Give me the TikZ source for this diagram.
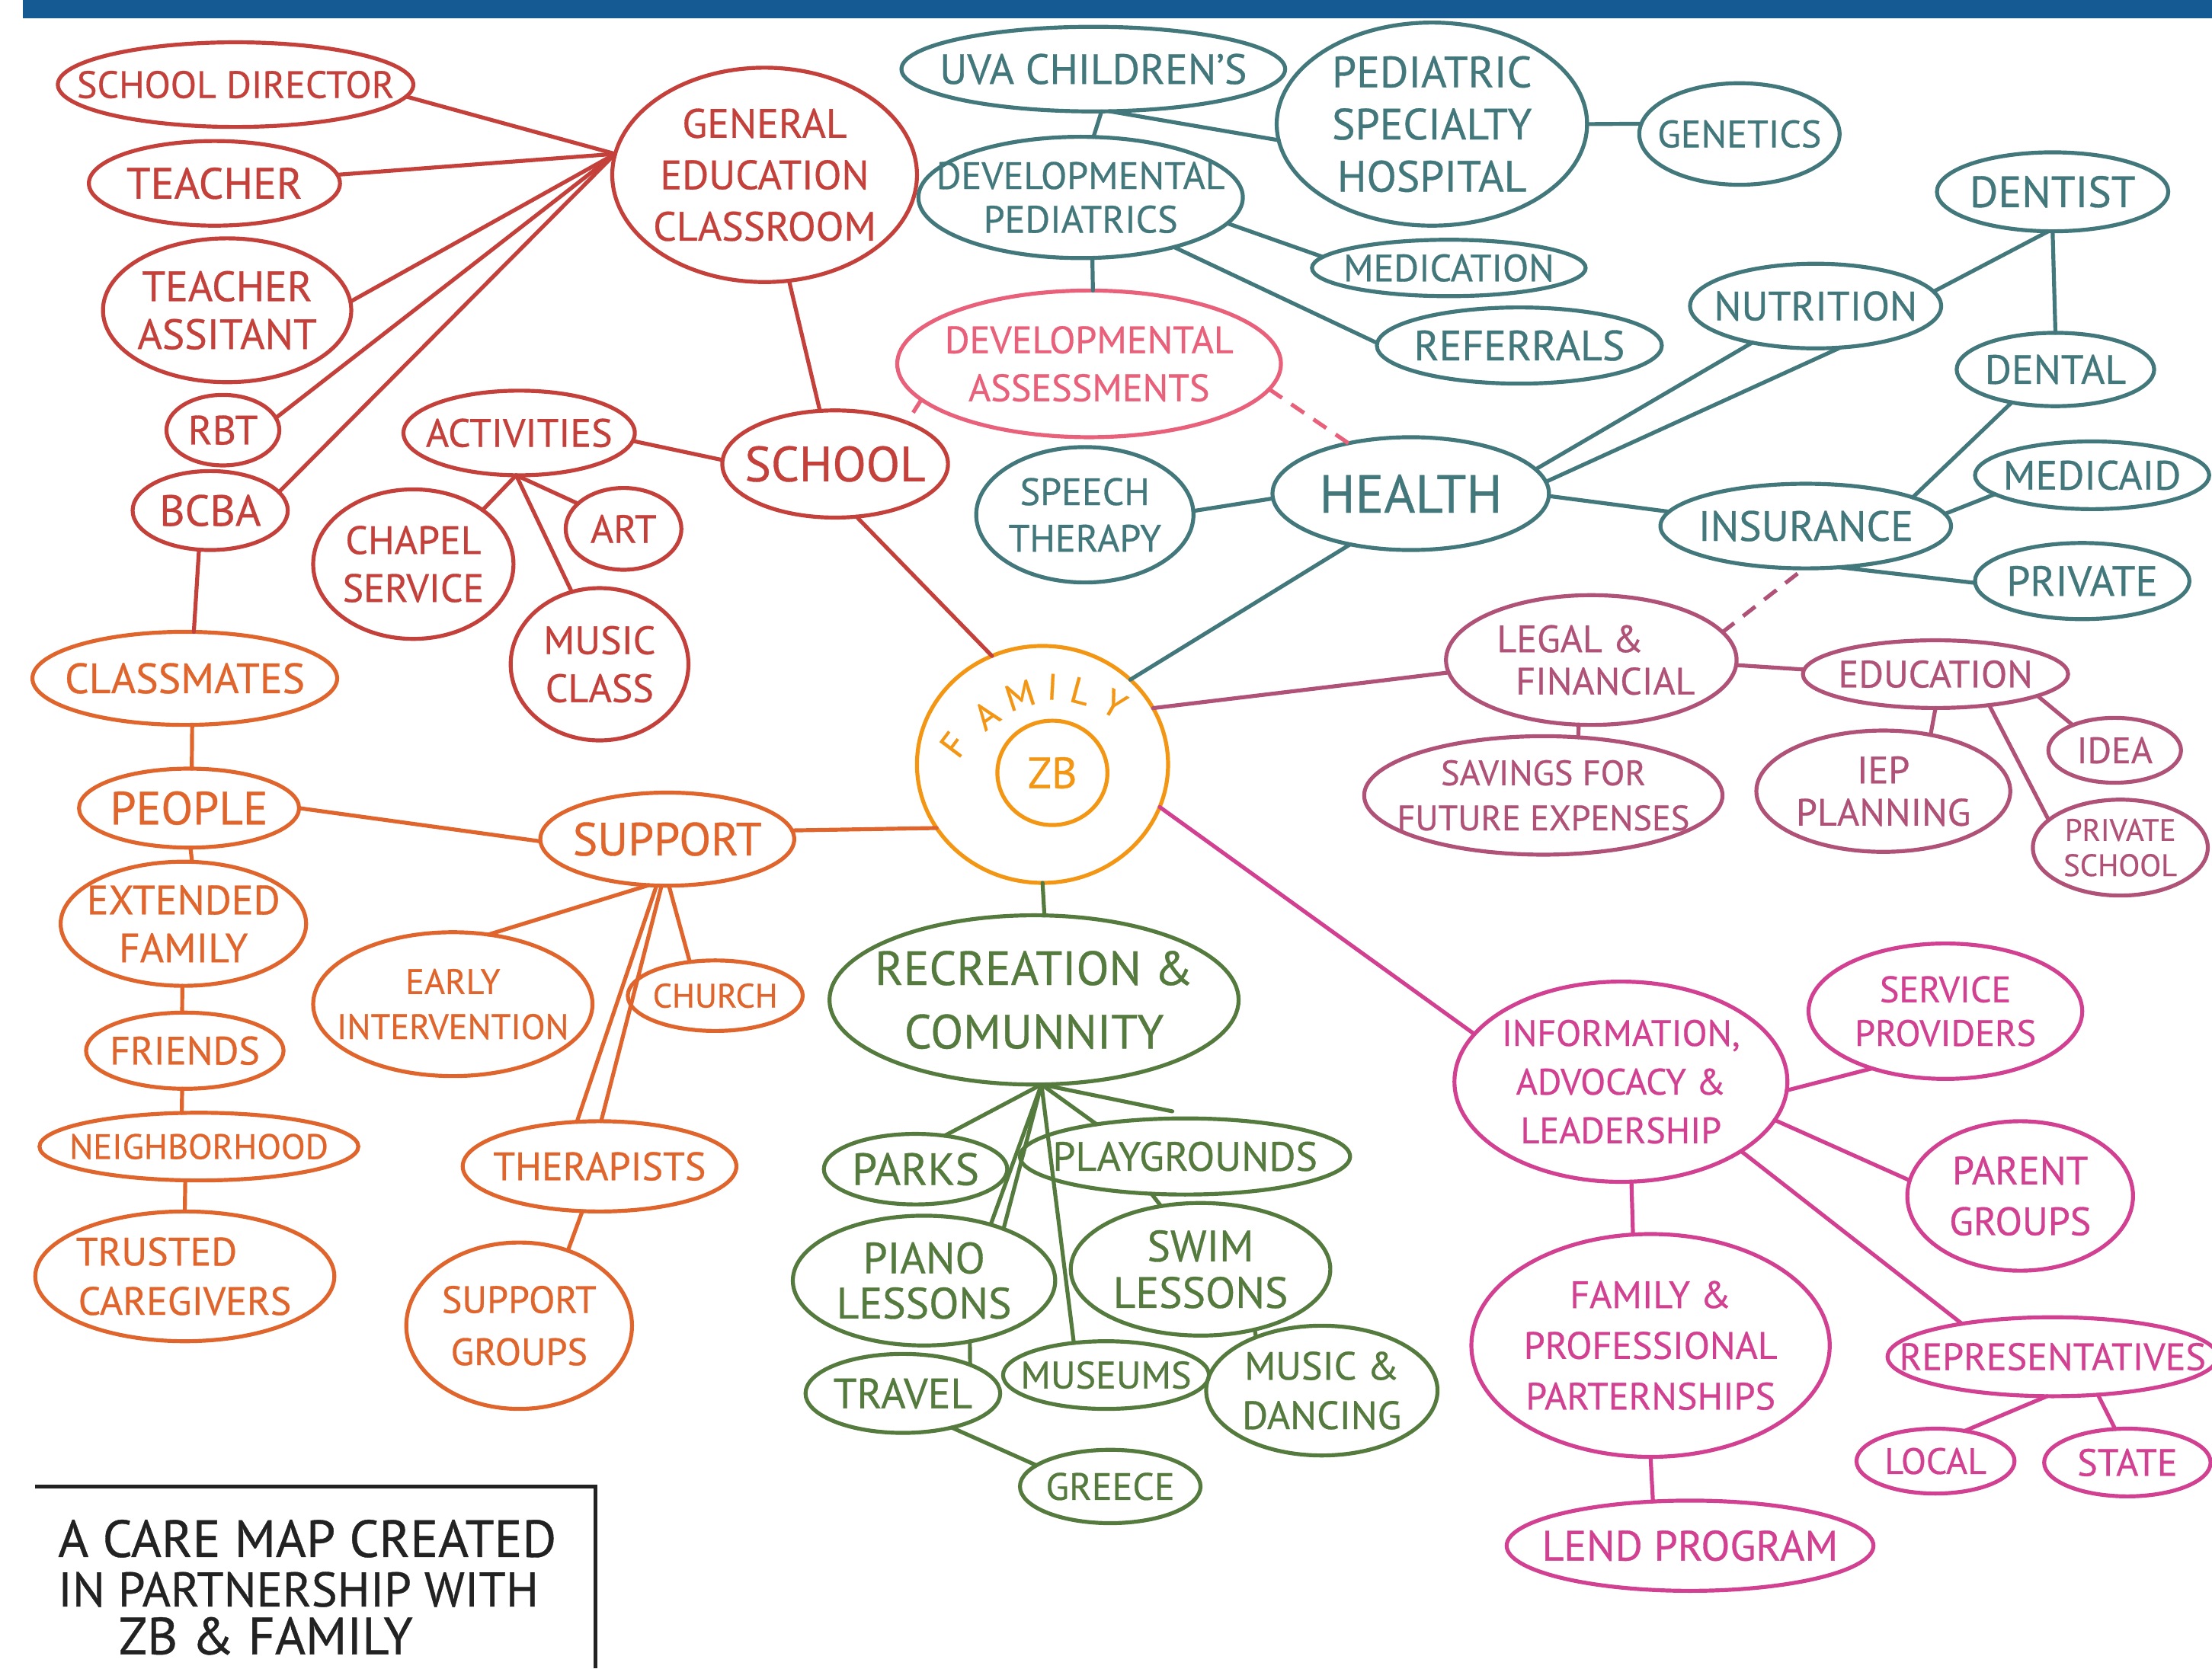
\documentclass[tikz,border=0pt]{standalone}
\usepackage{fontspec}
\setmainfont{PT Sans}[FakeBold=0.6]
\usetikzlibrary{shapes.geometric}
\definecolor{cred}{HTML}{C4403A}
\definecolor{corg}{HTML}{E0652C}
\definecolor{cfam}{HTML}{F39614}
\definecolor{cteal}{HTML}{42787B}
\definecolor{cpink}{HTML}{E8607A}
\definecolor{cmauve}{HTML}{B05278}
\definecolor{cmag}{HTML}{D24191}
\definecolor{cgreen}{HTML}{557A3E}
\definecolor{cbar}{HTML}{165A94}
\definecolor{cink}{HTML}{222222}
\tikzset{
 bub/.style={draw, ellipse, inner sep=0pt, outer sep=0pt, line width=2.8pt},
 lbl/.style={align=center, inner sep=0pt},
 conn/.style={line width=2.8pt, line cap=round},
 dconn/.style={line width=2.8pt, dash pattern=on 11pt off 8pt},
 famletter/.style={text=cfam, font=\fontsize{26}{28}\selectfont, inner sep=0pt},
 capline/.style={anchor=west, text=cink, inner sep=0pt},
}
\newcommand\bub[9]{\node[bub, draw=#6, minimum width={2*#4pt}, minimum height={2*#5pt}, label={[lbl, text=#6, font=\fontsize{#7}{#8}\selectfont]center:{#9}}] (#1) at (#2,#3) {};}
\begin{document}
\begin{tikzpicture}[x=1pt,y=-1pt]
\useasboundingbox (0,0) rectangle (1568,1183);
\fill[cbar] (16,0) rectangle (1568,13);
% red
\bub{sd}{167}{60}{126}{30}{cred}{27}{32}{SCHOOL DIRECTOR}
\bub{teacher}{152}{130}{89}{30}{cred}{31}{36}{TEACHER}
\bub{ta}{161}{220}{88}{51}{cred}{30}{34}{TEACHER\\ASSITANT}
\bub{rbt}{158}{305}{40}{25}{cred}{29}{34}{RBT}
\bub{bcba}{149}{362}{55}{28}{cred}{31}{34}{BCBA}
\bub{gec}{542}{124}{108}{76}{cred}{29}{36.5}{GENERAL\\EDUCATION\\CLASSROOM}
\bub{school}{592}{329}{80}{38}{cred}{35}{40}{SCHOOL}
\bub{act}{368}{307}{82}{30}{cred}{28}{34}{ACTIVITIES}
\bub{chapel}{293}{400}{71}{53}{cred}{28}{34}{CHAPEL\\SERVICE}
\bub{art}{442}{375}{41}{29}{cred}{28}{34}{ART}
\bub{music}{425}{471}{63}{54}{cred}{28}{34}{MUSIC\\CLASS}
% orange
\bub{classmates}{131}{481}{108}{33}{corg}{30}{34}{CLASSMATES}
\bub{people}{134}{573}{78}{28}{corg}{33}{36}{PEOPLE}
\bub{ext}{130}{655}{87}{44}{corg}{29}{34}{EXTENDED\\FAMILY}
\bub{friends}{131}{745}{70}{27}{corg}{28}{34}{FRIENDS}
\bub{neigh}{141}{813}{113}{24}{corg}{25}{30}{NEIGHBORHOOD}
\bub{trusted}{131}{905}{106}{46}{corg}{28}{35}{TRUSTED\hspace*{40pt}\\CAREGIVERS}
\bub{support}{473}{595}{90}{33}{corg}{33}{36}{SUPPORT}
\bub{early}{321}{712}{99}{51}{corg}{25}{32}{EARLY\\INTERVENTION}
\bub{church}{507}{706}{62}{25}{corg}{24}{30}{CHURCH}
\bub{ther}{425}{827}{97}{32}{corg}{28}{34}{THERAPISTS}
\bub{sg}{368}{940}{80}{59}{corg}{27}{37}{SUPPORT\\GROUPS}
% family
\node[bub, draw=cfam, minimum width=178pt, minimum height=168pt] (fam) at (739,542) {};
\bub{zb}{746}{548}{39}{37}{cfam}{31}{36}{ZB}
\node[famletter, rotate=53] (f1) at (676,528) {F};
\node[famletter, rotate=36] (f2) at (699,507) {A};
\node[famletter, rotate=18] (f3) at (723,493) {M};
\node[famletter, rotate=-3] (f4) at (746,487) {I};
\node[famletter, rotate=-15] (f5) at (766,490) {L};
\node[famletter, rotate=-30] (f6) at (790,499) {Y};
% teal
\bub{uva}{775}{49}{136}{30}{cteal}{30}{34}{UVA CHILDREN'S}
\bub{psh}{1015}{88}{110}{72}{cteal}{31}{37}{PEDIATRIC\\SPECIALTY\\HOSPITAL}
\bub{gen}{1233}{95}{71}{36}{cteal}{27}{32}{GENETICS}
\bub{devped}{766}{140}{115}{43}{cteal}{27}{31}{DEVELOPMENTAL\\PEDIATRICS}
\bub{med}{1027}{190}{97}{20}{cteal}{27}{32}{MEDICATION}
\bub{ref}{1077}{245}{101}{27}{cteal}{30}{34}{REFERRALS}
\bub{da}{772}{258}{136}{52}{cpink}{27}{34}{DEVELOPMENTAL\\ASSESSMENTS}
\bub{speech}{769}{365}{77}{48}{cteal}{27}{33}{SPEECH\\THERAPY}
\bub{health}{1000}{350}{98}{40}{cteal}{38}{42}{HEALTH}
\bub{nut}{1287}{217}{89}{30}{cteal}{29}{34}{NUTRITION}
\bub{dentist}{1455}{136}{82}{28}{cteal}{31}{36}{DENTIST}
\bub{dental}{1457}{262}{70}{26}{cteal}{29}{34}{DENTAL}
\bub{ins}{1280}{373}{103}{30}{cteal}{30}{34}{INSURANCE}
\bub{medicaid}{1483}{337}{83}{24}{cteal}{29}{34}{MEDICAID}
\bub{private}{1476}{412}{76}{27}{cteal}{30}{34}{PRIVATE}
% mauve
\bub{legal}{1128}{468}{103}{46}{cmauve}{27}{30}{LEGAL \&\hspace*{30pt}\\\hspace*{20pt}FINANCIAL}
\bub{sav}{1094}{564}{127}{42}{cmauve}{25}{32}{SAVINGS FOR\\FUTURE EXPENSES}
\bub{edu}{1372}{478}{94}{24}{cmauve}{27}{32}{EDUCATION}
\bub{iep}{1335}{561}{90}{43}{cmauve}{27}{30}{IEP\\PLANNING}
\bub{idea}{1499}{532}{47}{23}{cmauve}{26}{30}{IDEA}
\bub{ps}{1503}{601}{62}{34}{cmauve}{22}{25}{PRIVATE\\SCHOOL}
% magenta
\bub{ial}{1149}{767}{118}{71}{cmag}{26}{34.5}{INFORMATION,\\ADVOCACY \&\\LEADERSHIP}
\bub{sp}{1379}{717}{97}{48}{cmag}{26}{31}{SERVICE\\PROVIDERS}
\bub{pg}{1432}{848}{80}{53}{cmag}{28}{36}{PARENT\\GROUPS}
\bub{fpp}{1170}{954}{127}{79}{cmag}{27}{36}{FAMILY \&\\PROFESSIONAL\\PARTERNSHIPS}
\bub{rep}{1455}{962}{117}{28}{cmag}{27}{32}{REPRESENTATIVES}
\bub{local}{1372}{1036}{56}{23}{cmag}{26}{30}{LOCAL}
\bub{state}{1508}{1037}{59}{24}{cmag}{27}{30}{STATE}
\bub{lend}{1198}{1096}{130}{32}{cmag}{30}{34}{LEND PROGRAM}
% green
\bub{rec}{733}{709}{145}{60}{cgreen}{34}{45}{RECREATION \&\\COMUNNITY}
\bub{parks}{649}{829}{65}{25}{cgreen}{32}{34}{PARKS}
\bub{play}{840}{820}{117}{27}{cgreen}{29}{32}{PLAYGROUNDS}
\bub{piano}{655}{908}{93}{46}{cgreen}{31}{32}{PIANO\\LESSONS}
\bub{swim}{851}{900}{92}{47}{cgreen}{31}{33}{SWIM\\LESSONS}
\bub{travel}{640}{988}{69}{28}{cgreen}{30}{34}{TRAVEL}
\bub{museums}{784}{975}{73}{24}{cgreen}{27}{32}{MUSEUMS}
\bub{mdance}{937}{986}{82}{46}{cgreen}{28}{35}{MUSIC \&\\DANCING}
\bub{greece}{787}{1054}{64}{26}{cgreen}{27}{32}{GREECE}
% caption box
\coordinate (bx1) at (25,1054);
\coordinate (bx2) at (422,1054);
\coordinate (bx3) at (422,1183);
\draw[cink, line width=2.5pt] (bx1) -- (bx2) -- (bx3);
\node[capline, font=\fontsize{37}{40}\selectfont] (cap1) at (41,1091) {A CARE MAP CREATED};
\node[capline, font=\fontsize{34.5}{40}\selectfont] (cap2) at (41,1127) {IN PARTNERSHIP WITH};
\node[capline, font=\fontsize{37}{40}\selectfont] (cap3) at (84,1160) {ZB \& FAMILY};
% red connectors
\draw[conn, cred] (sd.-4) -- (gec.172);
\draw[conn, cred] (teacher.4) -- (gec.172);
\draw[conn, cred] (ta.4) -- (gec.172);
\draw[conn, cred] (rbt.13) -- (gec.172);
\draw[conn, cred] (bcba.15) -- (gec.172);
\draw[conn, cred] (gec.-77) -- (school.106);
\draw[conn, cred] (act.-4) -- (school.178);
\coordinate (acthub) at (act.-94);
\draw[conn, cred] (acthub) -- (chapel.38);
\draw[conn, cred] (acthub) -- (art.151);
\draw[conn, cred] (acthub) -- (music.111);
\draw[conn, cred] (school.-68) -- (fam.115);
\draw[conn, cred] (bcba.-106) -- (classmates.79);
% orange connectors
\draw[conn, corg] (classmates.-81) -- (people.86);
\draw[conn, corg] (people.-88) -- (ext.82);
\draw[conn, corg] (ext.-91) -- (friends.94);
\draw[conn, corg] (friends.-94) -- (neigh.117);
\draw[conn, corg] (neigh.-112) -- (trusted.90);
\draw[conn, corg] (people.0) -- (support.181);
\draw[conn, corg] (support.-112) -- (early.63);
\draw[conn, corg] (support.-88) -- (church.127);
\draw[conn, corg] (support.-103) -- (ther.117);
\draw[conn, corg] (support.-97) -- (ther.88);
\draw[conn, corg] (ther.-111) -- (sg.57);
\draw[conn, corg] (support.4) -- (fam.211);
% teal connectors
\draw[conn, cteal] (uva.-79) -- (devped.78);
\draw[conn, cteal] (uva.-69) -- (psh.186);
\draw[conn, cteal] (psh.0) -- (gen.174);
\draw[conn, cteal] (devped.-10) -- (med.175);
\draw[conn, cteal] (devped.-28) -- (ref.179);
\draw[conn, cteal] (devped.-79) -- (da.87);
\draw[dconn, cpink] (da.192) -- (school.30);
\draw[dconn, cpink] (da.-8) -- (health.141);
\draw[conn, cteal] (speech.2) -- (health.182);
\draw[conn, cteal] (health.11) -- (nut.210);
\draw[conn, cteal] (health.5) -- (nut.-59);
\draw[conn, cteal] (health.-1) -- (ins.174);
\draw[conn, cteal] (health.220) -- (fam.44);
\draw[conn, cteal] (nut.7) -- (dentist.-96);
\draw[conn, cteal] (dentist.-90) -- (dental.90);
\draw[conn, cteal] (dental.217) -- (ins.15);
\draw[conn, cteal] (ins.5) -- (medicaid.191);
\draw[conn, cteal] (ins.-51) -- (private.181);
\draw[dconn, cmauve, shorten <=6pt] (ins.-92) -- (legal.12);
% mauve connectors
\draw[conn, cmauve] (fam.27) -- (legal.185);
\draw[conn, cmauve] (legal.-2) -- (edu.178);
\draw[conn, cmauve] (legal.-101) -- (sav.59);
\draw[conn, cmauve] (edu.-90) -- (iep.50);
\draw[conn, cmauve] (edu.-30) -- (ps.159);
\draw[conn, cmauve] (edu.-12) -- (idea.149);
% magenta connectors
\draw[conn, cmag] (fam.-20) -- (ial.162);
\draw[conn, cmag] (ial.-3) -- (sp.218);
\draw[conn, cmag] (ial.-14) -- (pg.172);
\draw[conn, cmag] (ial.-30) -- (rep.160);
\draw[conn, cmag] (ial.-84) -- (fpp.99);
\draw[conn, cmag] (fpp.-90) -- (lend.130);
\draw[conn, cmag] (rep.-98) -- (local.46);
\draw[conn, cmag] (rep.-40) -- (state.110);
% green connectors
\draw[conn, cgreen] (fam.-90) -- (rec.83);
\coordinate (rechub) at (rec.-85);
\coordinate (pgend) at (831,788);
\draw[conn, cgreen] (rechub) -- (parks.49);
\draw[conn, cgreen] (rechub) -- (piano.40);
\draw[conn, cgreen] (rechub) -- (piano.33);
\draw[conn, cgreen] (rechub) -- (museums.135);
\draw[conn, cgreen] (rechub) -- (play.160);
\draw[conn, cgreen] (rechub) -- (pgend);
\draw[conn, cgreen] (play.-132) -- (swim.122);
\draw[conn, cgreen] (piano.-53) -- (travel.23);
\draw[conn, cgreen] (swim.-48) -- (mdance.141);
\draw[conn, cgreen] (travel.-35) -- (greece.164);
\end{tikzpicture}
\end{document}
